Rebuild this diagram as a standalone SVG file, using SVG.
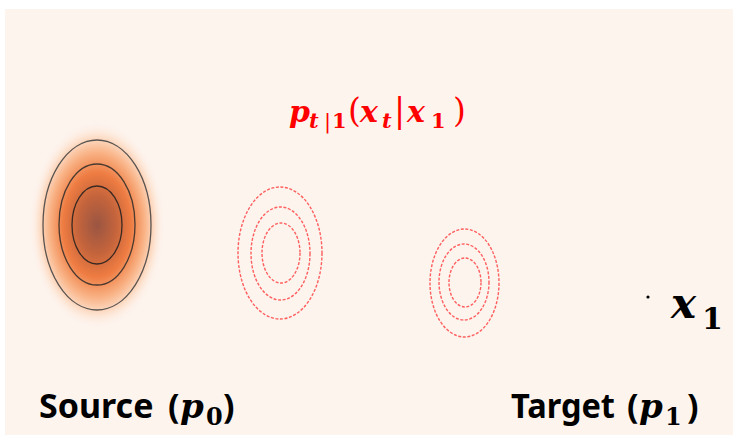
<svg xmlns="http://www.w3.org/2000/svg" width="733" height="437" viewBox="0 0 733 437">
<defs>
<radialGradient id="glow" cx="0.5" cy="0.5" r="0.5">
<stop offset="0" stop-color="#9a5542"/>
<stop offset="0.28" stop-color="#c4643c"/>
<stop offset="0.5" stop-color="#ee7c42"/>
<stop offset="0.7" stop-color="#f9b386"/>
<stop offset="0.86" stop-color="#fde2cf"/>
<stop offset="1" stop-color="#fdf4ee" stop-opacity="0"/>
</radialGradient>
<style>
.src{fill:none;stroke-width:1.3}
.flow{fill:none;stroke:#ff3a3a;stroke-width:1.4;stroke-dasharray:3 1.6;stroke-opacity:0.8}
.math{font-family:"DejaVu Serif","Liberation Serif",serif;font-weight:bold;font-style:italic}
.up{font-style:normal}
.lbl{font-family:"Noto Sans","Liberation Sans",sans-serif;font-weight:bold;font-size:34px;fill:#000}
</style>
</defs>
<rect x="5" y="9" width="728" height="426" fill="#fdf4ee"/>
<g id="source">
<ellipse cx="97" cy="225" rx="68" ry="104" fill="url(#glow)"/>
<ellipse class="src" cx="97" cy="225" rx="54" ry="85" stroke="#5a5450"/>
<ellipse class="src" cx="97" cy="224.5" rx="38" ry="60.5" stroke="#4a3a30"/>
<ellipse class="src" cx="97" cy="225" rx="25" ry="39" stroke="#3a2a22"/>
</g>
<g id="flow1">
<ellipse class="flow" cx="280" cy="253" rx="42" ry="66"/>
<ellipse class="flow" cx="280.5" cy="253.5" rx="29.5" ry="46.5"/>
<ellipse class="flow" cx="281" cy="253" rx="19" ry="30"/>
</g>
<g id="flow2">
<ellipse class="flow" cx="464.5" cy="283" rx="34.5" ry="54"/>
<ellipse class="flow" cx="464" cy="282" rx="25" ry="38"/>
<ellipse class="flow" cx="465" cy="282.5" rx="16" ry="24.5"/>
</g>
<g id="title">
<text class="math" fill="#ff0000" font-size="30" y="122"><tspan x="289">p</tspan><tspan x="309" dy="6" font-size="21">t</tspan><tspan class="up" x="324" font-size="21" font-weight="normal">|</tspan><tspan class="up" x="332" font-size="21">1</tspan><tspan class="up" x="348" dy="-6" font-weight="normal" font-size="33">(</tspan><tspan x="360">x</tspan><tspan x="382" dy="6" font-size="21">t</tspan><tspan class="up" x="394" dy="-6" font-weight="normal" font-size="33">|</tspan><tspan x="407">x</tspan><tspan class="up" x="431" dy="6" font-size="21">1</tspan><tspan class="up" x="453" dy="-6" font-weight="normal" font-size="33">)</tspan></text>
</g>
<g id="target-point">
<circle cx="648" cy="297" r="1.6" fill="#000"/>
<text class="math" fill="#000" font-size="42" y="318"><tspan x="671">x</tspan><tspan class="up" x="702" dy="11" font-size="30">1</tspan></text>
</g>
<g id="source-label">
<text class="lbl" y="418"><tspan x="39">Source</tspan><tspan x="168">(</tspan><tspan class="math" x="180" font-size="34">p</tspan><tspan class="math up" x="206" font-size="24" dy="7">0</tspan><tspan x="223" dy="-7">)</tspan></text>
</g>
<g id="target-label">
<text class="lbl" y="418"><tspan x="511" textLength="104" lengthAdjust="spacingAndGlyphs">Target</tspan><tspan x="627">(</tspan><tspan class="math" x="639" font-size="34">p</tspan><tspan class="math up" x="665" font-size="24" dy="7">1</tspan><tspan x="687" dy="-7">)</tspan></text>
</g>
</svg>
